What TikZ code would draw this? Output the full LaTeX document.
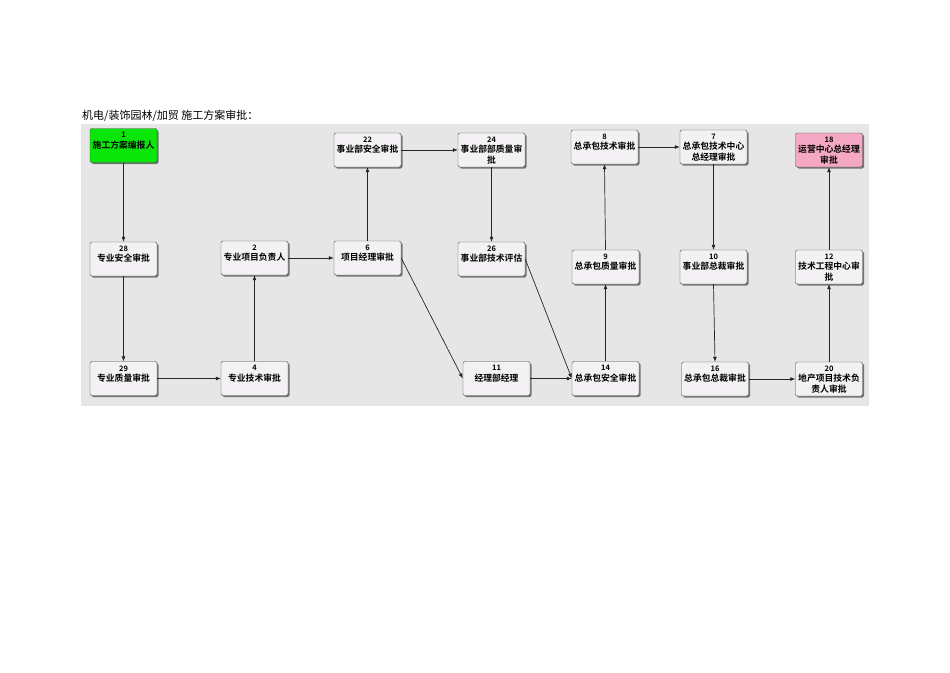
\documentclass[tikz,border=0pt]{standalone}
\usepackage{fontspec}
\newfontfamily\cjk{Noto Sans CJK SC}
\newfontfamily\cjkb{Noto Sans CJK SC Bold}
\usetikzlibrary{positioning}
\usetikzlibrary{shadows}
\usetikzlibrary{arrows.meta}
\definecolor{panelgray}{HTML}{E6E6E6}
\definecolor{boxfill}{HTML}{F4F1F4}
\definecolor{boxline}{HTML}{4A4A4A}
\definecolor{startgreen}{HTML}{0AE60A}
\definecolor{endpink}{HTML}{F4A8C4}
\tikzset{
    stepbox/.style = {draw = boxline, fill = boxfill, rounded corners = 2pt,
        minimum width = 67pt, minimum height = 34pt, inner sep = 1pt,
        font = \cjkb\fontsize{8.8}{10.4}\selectfont,
        drop shadow = {shadow xshift = 1.5pt, shadow yshift = -1.5pt,
            fill = black!55, opacity = 1}},
    flow/.style = {draw = black!85, line width = 0.7pt,
        -{Latex[length = 5pt, width = 4pt]}},
}
% number on top, text below, top aligned in the box
\newcommand*{\steptext}[2]{\parbox[c][31pt][t]{65pt}{\centering
    \vspace*{2.5pt}{\fontsize{7.5}{9}\selectfont #1}\\#2}}

\begin{document}
\begin{tikzpicture}[x = 1pt, y = -1pt]
    \useasboundingbox[fill = white] (0,0) rectangle (950,672);

    \node (title) [anchor = north west, inner sep = 0pt, font = \cjk\fontsize{11}{12}\selectfont]
        at (82,110) {机电/装饰园林/加贸 施工方案审批：};

    \fill[panelgray] (81,124) rectangle (869,406);

    % column 1 and 2
    \node (N1) at (123.5,145.5) [stepbox, fill = startgreen] {\steptext{1}{施工方案编报人}};
    \node (N28) at (123.5,259) [stepbox] {\steptext{28}{专业安全审批}};
    \node (N29) at (123.5,378.5) [stepbox] {\steptext{29}{专业质量审批}};
    \node (N2) at (254.5,258) [stepbox] {\steptext{2}{专业项目负责人}};
    \node (N4) at (254.5,378.5) [stepbox] {\steptext{4}{专业技术审批}};

    % business department
    \node (N6) at (367.5,258) [stepbox] {\steptext{6}{项目经理审批}};
    \node (N22) at (367.5,150) [stepbox] {\steptext{22}{事业部安全审批}};
    \node (N24) at (491.5,150) [stepbox] {\steptext{24}{事业部部质量审\\批}};
    \node (N26) at (491.5,259) [stepbox] {\steptext{26}{事业部技术评估}};
    \node (N11) at (496.5,378.5) [stepbox] {\steptext{11}{经理部经理}};

    % general contractor
    \node (N14) at (605.5,378.5) [stepbox] {\steptext{14}{总承包安全审批}};
    \node (N9) at (605.5,267) [stepbox] {\steptext{9}{总承包质量审批}};
    \node (N8) at (604.5,147) [stepbox] {\steptext{8}{总承包技术审批}};
    \node (N7) at (713.5,147) [stepbox] {\steptext{7}{总承包技术中心\\总经理审批}};
    \node (N10) at (713.5,267) [stepbox] {\steptext{10}{事业部总裁审批}};
    \node (N16) at (715,379) [stepbox] {\steptext{16}{总承包总裁审批}};
    \node (N20) at (829,379) [stepbox] {\steptext{20}{地产项目技术负\\责人审批}};
    \node (N12) at (829,267) [stepbox] {\steptext{12}{技术工程中心审\\批}};
    \node (N18) at (829,150) [stepbox, fill = endpink] {\steptext{18}{运营中心总经理\\审批}};

    \draw[flow] (N1) -- (N28);
    \draw[flow] (N28) -- (N29);
    \draw[flow] (N29) -- (N4);
    \draw[flow] (N4) -- (N2);
    \draw[flow] (N2) -- (N6);
    \draw[flow] (N6) -- (N22);
    \draw[flow] (N22) -- (N24);
    \draw[flow] (N24) -- (N26);
    \draw[flow] (N6.east) -- (N11.west);
    \draw[flow] (N26.east) -- (N14.west);
    \draw[flow] (N11) -- (N14);
    \draw[flow] (N14) -- (N9);
    \draw[flow] (N9.north) -- (N8.south);
    \draw[flow] (N8) -- (N7);
    \draw[flow] (N7) -- (N10);
    \draw[flow] (N10.south) -- (N16.north);
    \draw[flow] (N16) -- (N20);
    \draw[flow] (N20) -- (N12);
    \draw[flow] (N12) -- (N18);
\end{tikzpicture}
\end{document}
